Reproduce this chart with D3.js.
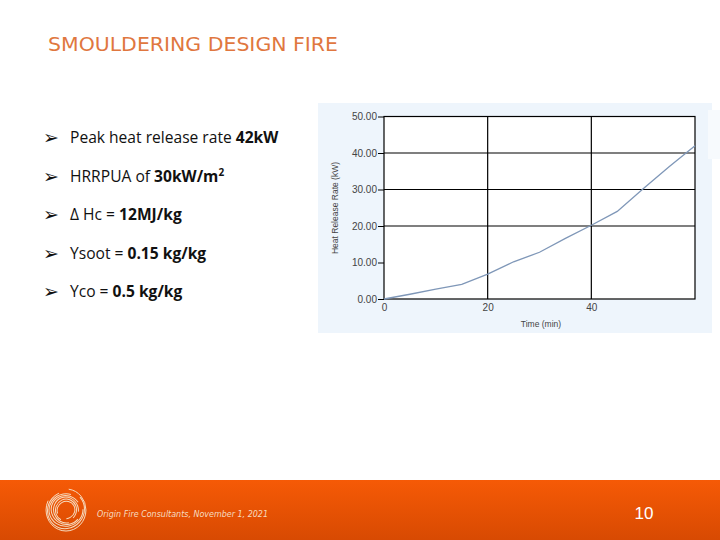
<!DOCTYPE html>
<html><head><meta charset="utf-8">
<script src="https://cdn.jsdelivr.net/npm/d3@7"></script>
<style>body{margin:0;background:#fff;}svg{display:block;}</style>
</head><body>
<svg id="c" width="720" height="540"></svg>
<script>
const timeMin = [0, 5, 10, 15, 20, 25, 30, 35, 40, 45, 50, 55, 60];
const hrrKW   = [0, 1.3, 2.7, 4.0, 6.8, 10.2, 12.8, 16.6, 20.2, 24.0, 30.2, 36.2, 42.0];
const xTicks = [0, 20, 40];
const yTicks = [0, 10, 20, 30, 40, 50];
const yGrid = [20, 30, 40];
const bullets = [
  [["Peak heat release rate ", false], ["42kW", true]],
  [["HRRPUA of ", false], ["30kW/m", true], ["2", true, "sup"]],
  [["\u0394 Hc = ", false], ["12MJ/kg", true]],
  [["Ysoot = ", false], ["0.15 kg/kg", true]],
  [["Yco = ", false], ["0.5 kg/kg", true]]
];

const svg = d3.select("#c");
const defs = svg.append("defs");
const g = defs.append("linearGradient").attr("id","ft").attr("x1",0).attr("y1",0).attr("x2",0).attr("y2",1);
g.append("stop").attr("offset","0%").attr("stop-color","#f65a06");
g.append("stop").attr("offset","100%").attr("stop-color","#d84a02");

// title
svg.append("text").attr("x",48).attr("y",51).attr("font-family","'DejaVu Sans Condensed','DejaVu Sans',sans-serif")
  .attr("font-size",20).attr("fill","#e0773f").attr("textLength",290).attr("lengthAdjust","spacingAndGlyphs")
  .text("SMOULDERING DESIGN FIRE");

// bullets
const by = [138, 177, 215, 254, 292];
bullets.forEach((parts,i)=>{
  svg.append("text").attr("x",43).attr("y",by[i]+6).attr("font-family","'DejaVu Sans',sans-serif")
    .attr("font-size",19).attr("fill","#111").text("\u27A2");
  const t = svg.append("text").attr("x",70).attr("y",by[i]+5).attr("font-family","'Open Sans','DejaVu Sans',sans-serif")
    .attr("font-size",15.6).attr("fill","#111");
  parts.forEach(p=>{
    const s = t.append("tspan").attr("font-weight",p[1]?"bold":"normal").text(p[0]);
    if(p[2]==="sup") s.attr("font-size",10).attr("dy",-6);
  });
});

// chart panel
svg.append("rect").attr("x",318).attr("y",103).attr("width",394).attr("height",230).attr("fill","#eef5fc");
svg.append("rect").attr("x",708).attr("y",110).attr("width",12).attr("height",49).attr("fill","#f7fafd");

const x = d3.scaleLinear().domain([0,60]).range([384,695]);
const y = d3.scaleLinear().domain([0,50]).range([299,116.5]);

svg.append("rect").attr("x",x(0)).attr("y",y(50)).attr("width",x(60)-x(0)).attr("height",y(0)-y(50))
  .attr("fill","#fff").attr("stroke","#000").attr("stroke-width",1.2);

svg.append("g").selectAll("line").data(yGrid).join("line")
  .attr("x1",x(0)).attr("x2",x(60)).attr("y1",d=>y(d)).attr("y2",d=>y(d)).attr("stroke","#000").attr("stroke-width",1.2);
svg.append("g").selectAll("line").data([20,40]).join("line")
  .attr("y1",y(0)).attr("y2",y(50)).attr("x1",d=>x(d)).attr("x2",d=>x(d)).attr("stroke","#000").attr("stroke-width",1.2);

const yAxis = svg.append("g").attr("transform",`translate(${x(0)},0)`)
  .call(d3.axisLeft(y).tickValues(yTicks).tickFormat(d3.format(".2f")).tickSize(6).tickPadding(1));
const xAxis = svg.append("g").attr("transform",`translate(0,${y(0)})`)
  .call(d3.axisBottom(x).tickValues(xTicks).tickSize(0).tickPadding(5));
[yAxis,xAxis].forEach(a=>{
  a.select(".domain").remove();
  a.selectAll("text").attr("font-family","'Liberation Sans',Arial,sans-serif").attr("font-size",10).attr("fill","#444");
  a.selectAll("line").attr("stroke","#000");
});

const line = d3.line().x((d,i)=>x(timeMin[i])).y(d=>y(d));
svg.append("path").datum(hrrKW).attr("d",line).attr("fill","none").attr("stroke","#7f97b8").attr("stroke-width",1.3);

svg.append("text").attr("transform","translate(338,208) rotate(-90)").attr("text-anchor","middle")
  .attr("font-family","'Liberation Sans',Arial,sans-serif").attr("font-size",8.5).attr("fill","#444").text("Heat Release Rate (kW)");
svg.append("text").attr("x",541).attr("y",327).attr("text-anchor","middle")
  .attr("font-family","'Liberation Sans',Arial,sans-serif").attr("font-size",8.5).attr("fill","#444").text("Time (min)");

// footer
svg.append("rect").attr("x",0).attr("y",480).attr("width",720).attr("height",60).attr("fill","url(#ft)");
const logo = svg.append("g").attr("transform","translate(66,510)").attr("fill","none").attr("stroke","#f6dcc0").attr("stroke-width",1);
[21,19,17,15,13,11,9].forEach((r,i)=>{
  logo.append("ellipse").attr("rx",r*0.95).attr("ry",r).attr("transform",`rotate(${i*40})`)
    .attr("stroke-dasharray",`${r*3.5} ${r*1.2}`);
});
svg.append("text").attr("x",97).attr("y",517).attr("font-family","'DejaVu Sans',sans-serif").attr("font-style","italic")
  .attr("font-size",8).attr("fill","#f6dcc0").attr("textLength",171).attr("lengthAdjust","spacingAndGlyphs")
  .text("Origin Fire Consultants, November 1, 2021");
svg.append("text").attr("x",644).attr("y",519).attr("text-anchor","middle").attr("font-family","'Liberation Sans',Arial,sans-serif")
  .attr("font-size",17).attr("fill","#fff").text("10");
</script>
</body></html>
